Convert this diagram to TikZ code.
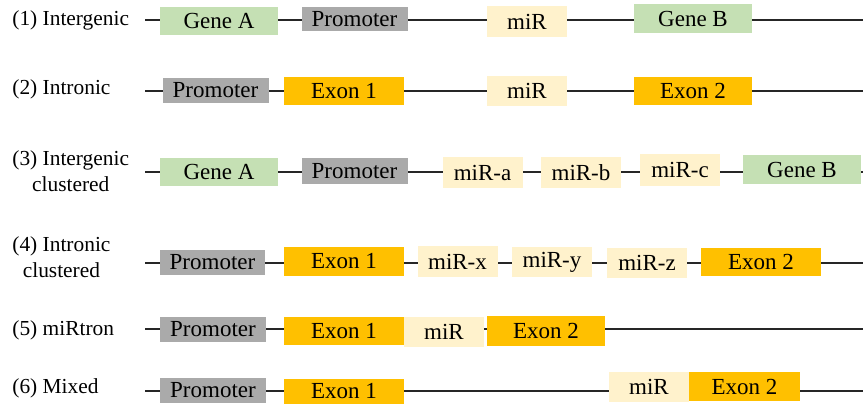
\documentclass[tikz,border=0pt]{standalone}
\usepackage{fontspec}
\setmainfont{Liberation Serif}
\usetikzlibrary{positioning}

\begin{document}
\begin{tikzpicture}[x=0.5pt,y=-0.5pt,
  box/.style={inner sep=0pt,font=\fontsize{11.5}{13}\selectfont},
  gene/.style={box,fill={rgb,255:red,197;green,224;blue,180},minimum width=59pt},
  prom/.style={box,fill={rgb,255:red,170;green,170;blue,170},minimum width=53pt},
  exon/.style={box,fill={rgb,255:red,255;green,192;blue,0},minimum width=60pt},
  mir/.style={box,fill={rgb,255:red,255;green,242;blue,204},minimum width=40pt},
  lbl/.style={anchor=west,align=center,inner sep=0pt,font=\fontsize{10.7}{13}\selectfont},
  dna/.style={line width=1pt,black!85}]
  \useasboundingbox (0,0) rectangle (863,404);
  % row labels
  \node[lbl] (l1) at (12,20) {(1) Intergenic};
  \node[lbl] (l2) at (12,89) {(2) Intronic};
  \node[lbl] (l3) at (12,171) {(3) Intergenic\\clustered};
  \node[lbl] (l4) at (12,257) {(4) Intronic\\clustered};
  \node[lbl] (l5) at (12,330) {(5) miRtron};
  \node[lbl] (l6) at (12,388) {(6) Mixed};
  % backbone lines
  \coordinate (s1) at (145,20);  \coordinate (e1) at (863,20);
  \coordinate (s2) at (145,91);  \coordinate (e2) at (863,91);
  \coordinate (s3) at (145,172); \coordinate (e3) at (863,172);
  \coordinate (s4) at (145,263); \coordinate (e4) at (863,263);
  \coordinate (s5) at (145,329); \coordinate (e5) at (863,329);
  \coordinate (s6) at (145,391); \coordinate (e6) at (863,391);
  \draw[dna] (s1)--(e1) (s2)--(e2) (s3)--(e3) (s4)--(e4) (s5)--(e5) (s6)--(e6);
  % (1) intergenic
  \node[gene,minimum height=14pt] (geneA1) at (219,21) {Gene A};
  \node[prom,minimum height=12pt] (prom1) at (354.5,19) {Promoter};
  \node[mir,minimum height=15.5pt] (mir1) at (527,21.5) {miR};
  \node[gene,minimum height=14.5pt] (geneB1) at (693,18.5) {Gene B};
  % (2) intronic
  \node[prom,minimum height=12.5pt] (prom2) at (215.5,90.5) {Promoter};
  \node[exon,minimum height=14pt] (exA2) at (344,91) {Exon 1};
  \node[mir,minimum height=15pt] (mir2) at (527,91) {miR};
  \node[exon,minimum height=14pt,minimum width=59pt] (exB2) at (693,91) {Exon 2};
  % (3) intergenic clustered
  \node[gene,minimum height=14pt] (geneA3) at (219,172) {Gene A};
  \node[prom,minimum height=13pt] (prom3) at (354.5,171) {Promoter};
  \node[mir,minimum height=15.5pt] (mirA3) at (482.5,172.5) {miR-a};
  \node[mir,minimum height=15.5pt] (mirB3) at (581,172.5) {miR-b};
  \node[mir,minimum height=16pt] (mirC3) at (680,170) {miR-c};
  \node[gene,minimum height=14.5pt] (geneB3) at (802,169.5) {Gene B};
  % (4) intronic clustered
  \node[prom,minimum height=12.5pt,minimum width=52.5pt] (prom4) at (212.5,262.5) {Promoter};
  \node[exon,minimum height=14.5pt] (exA4) at (344,261.5) {Exon 1};
  \node[mir,minimum height=15.5pt] (mirX4) at (457.5,261.5) {miR-x};
  \node[mir,minimum height=15pt] (mirY4) at (552,262) {miR-y};
  \node[mir,minimum height=15pt] (mirZ4) at (647,263) {miR-z};
  \node[exon,minimum height=14pt] (exB4) at (761,262) {Exon 2};
  % (5) mirtron
  \node[prom,minimum height=12.5pt] (prom5) at (213,329.5) {Promoter};
  \node[exon,minimum height=14pt] (exA5) at (344,331) {Exon 1};
  \node[mir,minimum height=15pt] (mir5) at (444,332) {miR};
  \node[exon,minimum height=15pt,minimum width=59pt] (exB5) at (546,331) {Exon 2};
  % (6) mixed
  \node[prom,minimum height=12.5pt] (prom6) at (213,390.5) {Promoter};
  \node[exon,minimum height=12.5pt] (exA6) at (344,391.5) {Exon 1};
  \node[mir,minimum height=15pt] (mir6) at (649,387) {miR};
  \node[exon,minimum height=14.5pt,minimum width=55.5pt] (exB6) at (744.5,386.5) {Exon 2};
\end{tikzpicture}
\end{document}
